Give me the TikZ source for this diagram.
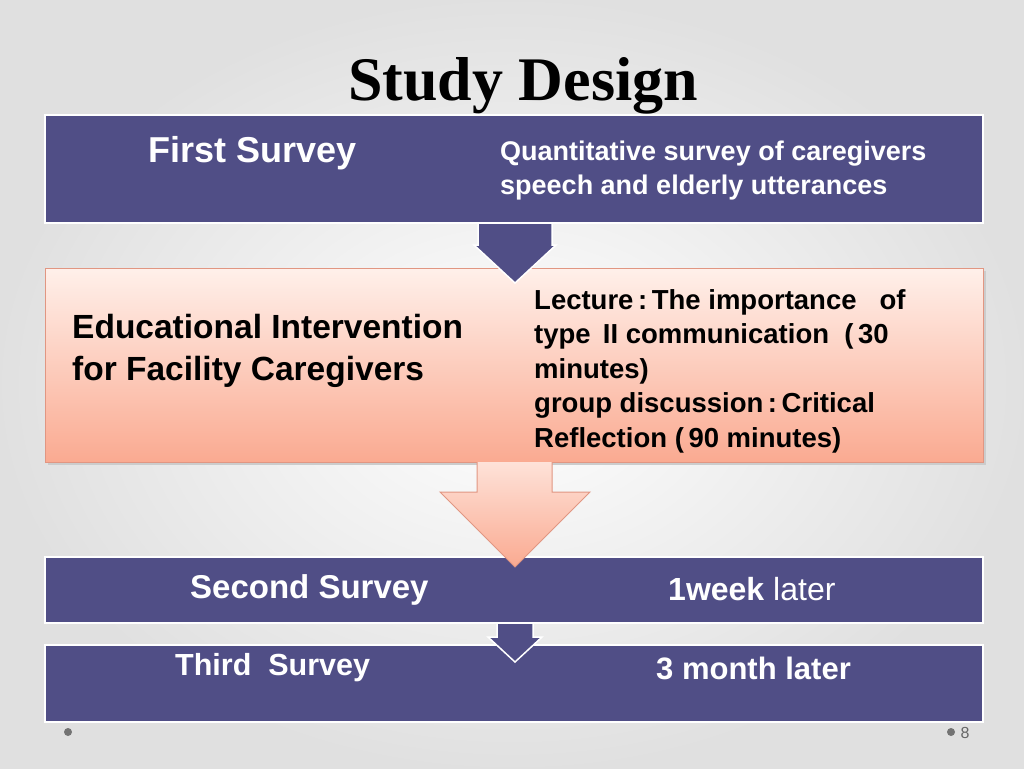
\documentclass[tikz,border=0pt]{standalone}
\usepackage{fontspec}
\setmainfont{Liberation Serif}
\newfontfamily\sans{Liberation Sans}
\begin{document}
\begin{tikzpicture}[x=1pt,y=-1pt,
 band/.style={fill=bandc,draw=white,line width=2pt},
 wt/.style={text=white,font=\sans\bfseries,anchor=west,inner sep=0pt},
 bt/.style={text=black,font=\sans\bfseries,anchor=west,inner sep=0pt,align=left}]
\definecolor{bandc}{RGB}{80,78,134}
\definecolor{pinkl}{RGB}{255,240,234}
\definecolor{pinkd}{RGB}{250,170,145}
\definecolor{pinkb}{RGB}{225,150,130}
\useasboundingbox (0,0) rectangle (1024,768);
\shade[inner color=white,outer color=black!12] (0,0) rectangle (1024,768);
\node[font=\bfseries\fontsize{62}{66}\selectfont,inner sep=0pt] (title) at (523,86) {Study Design};
% band 1
\path[band] (45,115) rectangle (983,223);
\node[wt,font=\sans\bfseries\fontsize{36}{40}\selectfont] (fs) at (148,153) {First Survey};
\node[wt,font=\sans\bfseries\fontsize{27}{34}\selectfont,align=left] (fsq) at (500,171) {Quantitative survey of caregivers\\speech and elderly utterances};
% pink box
\fill[black!20] (48,271) rectangle (986,465);
\shade[top color=pinkl,bottom color=pinkd] (45,268) rectangle (983,462);
\draw[pinkb,line width=1pt] (45,268) rectangle (983,462);
\node[bt,font=\sans\bfseries\fontsize{33.5}{42}\selectfont] (ei) at (72,351) {Educational Intervention\\for Facility Caregivers};
\node[bt,font=\sans\bfseries\fontsize{27.5}{34.5}\selectfont] (lec) at (534,371) {Lecture\,:\,The importance\ \ \ of\\type\ \,II\ communication\ \ (\,30\\minutes)\\group discussion\,:\,Critical\\Reflection (\,90 minutes)};
% arrow 1
\path[fill=bandc,draw=white,line width=1.5pt] (478,223)--(552,223)--(552,245)--(556,245)--(515,283)--(474,245)--(478,245)--cycle;
% band 2
\path[band] (45,557) rectangle (983,623);
\node[wt,font=\sans\bfseries\fontsize{33}{36}\selectfont] (ss) at (190,590) {Second Survey};
\node[wt,font=\sans\fontsize{32}{36}\selectfont] (wk) at (668,589) {\textbf{1week} later};
% arrow 2
\shade[top color=pinkl!80!pinkd,bottom color=pinkd] (477,462)--(552,462)--(552,492)--(590,492)--(515,567)--(440,492)--(477,492)--cycle;
\draw[pinkb,line width=1pt] (477,462)--(477,492)--(440,492)--(515,567)--(590,492)--(552,492)--(552,462);
% band 3
\path[band] (45,645) rectangle (983,722);
\node[wt,font=\sans\bfseries\fontsize{30.5}{34}\selectfont] (ts) at (175,668) {Third\ \ Survey};
\node[wt,font=\sans\bfseries\fontsize{31}{34}\selectfont] (ml) at (656,668) {3 month later};
% arrow 3
\path[fill=bandc,draw=white,line width=1.5pt] (497,623)--(533,623)--(533,637)--(542,637)--(515,662)--(488,637)--(497,637)--cycle;
% footer
\fill[black!55] (68,732) circle (4);
\fill[black!55] (951,732) circle (4);
\node[font=\sans\fontsize{16}{18}\selectfont,text=black!60,inner sep=0pt] (pg) at (965,733) {8};
\end{tikzpicture}
\end{document}
